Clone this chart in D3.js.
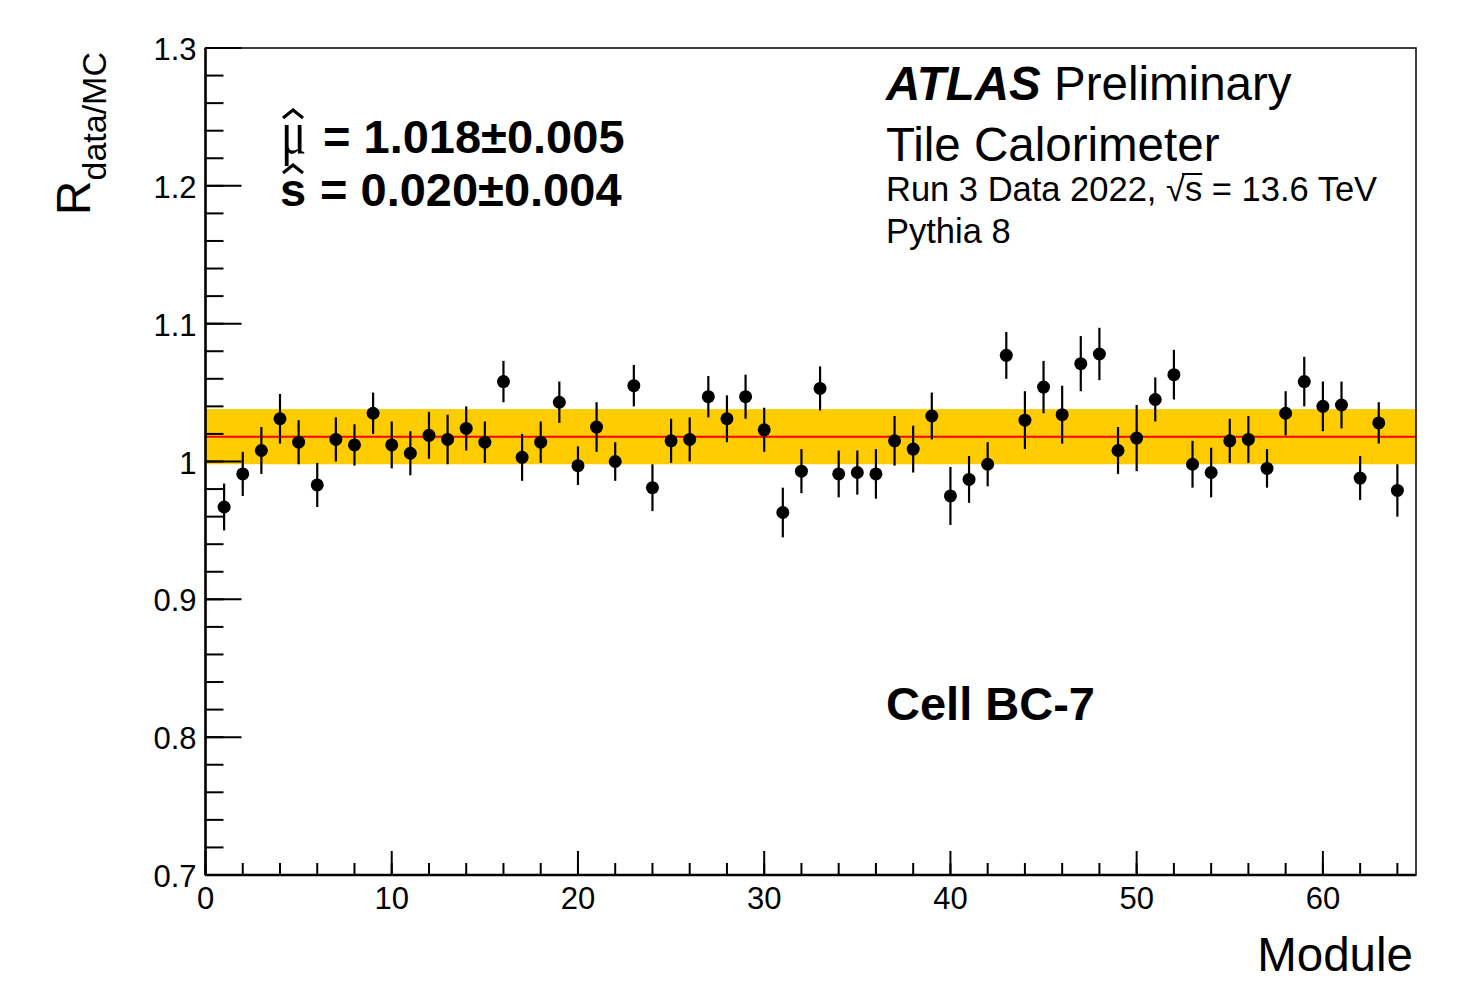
<!DOCTYPE html>
<html lang="en">
<head>
<meta charset="UTF-8">
<title>Cell BC-7</title>
<script src="https://d3js.org/d3.v7.min.js"></script>
<style>
  body { margin: 0; background: #fff; }
  svg { display: block; font-family: "Liberation Sans", Arial, sans-serif; }
</style>
</head>
<body>
<svg></svg>
<script>
const width = 1469, height = 982;

// data
const modules = [1,2,3,4,5,6,7,8,9,10,11,12,13,14,15,16,17,18,19,20,21,22,23,24,25,26,27,28,29,30,31,32,
  33,34,35,36,37,38,39,40,41,42,43,44,45,46,47,48,49,50,51,52,53,54,55,56,57,58,59,60,61,62,63,64];
const ratio = [0.967,0.991,1.008,1.031,1.014,0.983,1.016,1.012,1.035,1.012,1.006,1.019,1.016,1.024,1.014,1.058,
  1.003,1.014,1.043,0.997,1.025,1.000,1.055,0.981,1.015,1.016,1.047,1.031,1.047,1.023,0.963,0.993,
  1.053,0.991,0.992,0.991,1.015,1.009,1.033,0.975,0.987,0.998,1.077,1.030,1.054,1.034,1.071,1.078,
  1.008,1.017,1.045,1.063,0.998,0.992,1.015,1.016,0.995,1.035,1.058,1.040,1.041,0.988,1.028,0.979];
const ratioErr = [0.017,0.016,0.017,0.018,0.016,0.016,0.016,0.015,0.015,0.017,0.016,0.017,0.018,0.016,0.015,0.015,
  0.017,0.015,0.015,0.014,0.018,0.014,0.015,0.017,0.016,0.016,0.015,0.017,0.016,0.016,0.018,0.016,
  0.016,0.017,0.016,0.018,0.018,0.017,0.017,0.021,0.017,0.016,0.017,0.021,0.019,0.021,0.020,0.019,
  0.017,0.024,0.016,0.018,0.017,0.018,0.016,0.017,0.014,0.016,0.018,0.018,0.017,0.016,0.015,0.019];
const fitMu = 1.018, fitS = 0.020;
const yTicks = [0.7, 0.8, 0.9, 1.0, 1.1, 1.2, 1.3];
const yTickLabels = ["0.7", "0.8", "0.9", "1", "1.1", "1.2", "1.3"];
const xTicks = [0, 10, 20, 30, 40, 50, 60];

const padL = 205.5, padR = 1416, padT = 48, padB = 875;

const svg = d3.select("svg")
    .attr("width", width)
    .attr("height", height);

const x = d3.scaleLinear().domain([0, 65]).range([padL, padR]);
const y = d3.scaleLinear().domain([0.7, 1.3]).range([padB, padT]);

// fit band and mean
svg.append("rect")
    .attr("x", x(0)).attr("width", x(65) - x(0))
    .attr("y", y(fitMu + fitS)).attr("height", y(fitMu - fitS) - y(fitMu + fitS))
    .attr("fill", "#ffcc00");
svg.append("line")
    .attr("x1", x(0)).attr("x2", x(65))
    .attr("y1", y(fitMu)).attr("y2", y(fitMu))
    .attr("stroke", "#ff0000").attr("stroke-width", 2);

// error bars + markers
const pts = svg.append("g").selectAll("g")
    .data(modules.map((m, i) => ({ m, v: ratio[i], e: ratioErr[i] })))
    .join("g");
pts.append("line")
    .attr("x1", d => x(d.m)).attr("x2", d => x(d.m))
    .attr("y1", d => y(d.v - d.e)).attr("y2", d => y(d.v + d.e))
    .attr("stroke", "#000").attr("stroke-width", 2.2);
pts.append("circle")
    .attr("cx", d => x(d.m)).attr("cy", d => y(d.v))
    .attr("r", 6.5).attr("fill", "#000");

// frame
svg.append("rect")
    .attr("x", padL).attr("y", padT)
    .attr("width", padR - padL).attr("height", padB - padT)
    .attr("fill", "none").attr("stroke", "#000").attr("stroke-width", 1.5);
svg.append("line").attr("x1", padL).attr("x2", padL).attr("y1", padT).attr("y2", padB)
    .attr("stroke", "#000").attr("stroke-width", 2.5);
svg.append("line").attr("x1", padL).attr("x2", padR).attr("y1", padB).attr("y2", padB)
    .attr("stroke", "#000").attr("stroke-width", 2.5);

// y ticks
const yMinor = d3.range(0, 31).map(i => 0.7 + i * 0.02);
svg.append("g").selectAll("line").data(yMinor).join("line")
    .attr("x1", padL).attr("x2", padL + 18)
    .attr("y1", d => y(d)).attr("y2", d => y(d))
    .attr("stroke", "#000").attr("stroke-width", 2);
svg.append("g").selectAll("line").data(yTicks).join("line")
    .attr("x1", padL).attr("x2", padL + 36)
    .attr("y1", d => y(d)).attr("y2", d => y(d))
    .attr("stroke", "#000").attr("stroke-width", 2);
svg.append("g").selectAll("text").data(yTicks).join("text")
    .attr("x", padL - 9).attr("y", d => y(d) + 12)
    .attr("text-anchor", "end").attr("font-size", 31)
    .text((d, i) => yTickLabels[i]);

// x ticks
const xMinor = d3.range(0, 33).map(i => i * 2);
svg.append("g").selectAll("line").data(xMinor).join("line")
    .attr("x1", d => x(d)).attr("x2", d => x(d))
    .attr("y1", padB).attr("y2", padB - 12)
    .attr("stroke", "#000").attr("stroke-width", 2);
svg.append("g").selectAll("line").data(xTicks).join("line")
    .attr("x1", d => x(d)).attr("x2", d => x(d))
    .attr("y1", padB).attr("y2", padB - 24)
    .attr("stroke", "#000").attr("stroke-width", 2);
svg.append("g").selectAll("text").data(xTicks).join("text")
    .attr("x", d => x(d)).attr("y", 909)
    .attr("text-anchor", "middle").attr("font-size", 31)
    .text(d => d);

// axis titles
svg.append("text")
    .attr("x", 1413).attr("y", 971)
    .attr("text-anchor", "end").attr("font-size", 47.5)
    .text("Module");
const yt = svg.append("text")
    .attr("transform", "translate(90,52) rotate(-90)")
    .attr("text-anchor", "end").attr("font-size", 48);
yt.append("tspan").text("R");
yt.append("tspan").attr("dy", 16).attr("font-size", 34).text("data/MC");

// labels
const atl = svg.append("text").attr("x", 886).attr("y", 100).attr("font-size", 47.5);
atl.append("tspan").attr("font-weight", "bold").attr("font-style", "italic").text("ATLAS");
atl.append("tspan").text(" Preliminary");
svg.append("text").attr("x", 886).attr("y", 161).attr("font-size", 47.5).text("Tile Calorimeter");
const runStr = "Run 3 Data 2022, √s = 13.6 TeV";
const run = svg.append("text").attr("x", 886).attr("y", 201).attr("font-size", 34.5).text(runStr);
// bar of the square root over s
const sIdx = runStr.indexOf("√s") + 1;
const ext = run.node().getExtentOfChar(sIdx);
const rootExt = run.node().getExtentOfChar(sIdx - 1);
svg.append("line")
    .attr("x1", rootExt.x + rootExt.width - 3).attr("x2", ext.x + ext.width)
    .attr("y1", 174).attr("y2", 174)
    .attr("stroke", "#000").attr("stroke-width", 2);
svg.append("text").attr("x", 886).attr("y", 243).attr("font-size", 34.5).text("Pythia 8");
svg.append("text").attr("x", 886).attr("y", 720).attr("font-size", 47)
    .attr("font-weight", "bold").text("Cell BC-7");

// fit results
svg.append("text")
    .attr("transform", "translate(281,153) scale(1,1.3)")
    .attr("font-size", 47)
    .attr("font-family", "Liberation Serif, serif").text("μ");
svg.append("text").attr("x", 323).attr("y", 153).attr("font-size", 47)
    .attr("font-weight", "bold").text("= 1.018±0.005");
svg.append("text").attr("x", 280).attr("y", 206).attr("font-size", 47)
    .attr("font-weight", "bold").text("s");
svg.append("text").attr("x", 320).attr("y", 206).attr("font-size", 47)
    .attr("font-weight", "bold").text("= 0.020±0.004");
const hat = (cx, cy) => svg.append("path")
    .attr("d", `M${cx - 10},${cy + 8}L${cx},${cy}L${cx + 10},${cy + 8}`)
    .attr("fill", "none").attr("stroke", "#000").attr("stroke-width", 3.2);
hat(293, 110);
hat(293, 165);
</script>
</body>
</html>
